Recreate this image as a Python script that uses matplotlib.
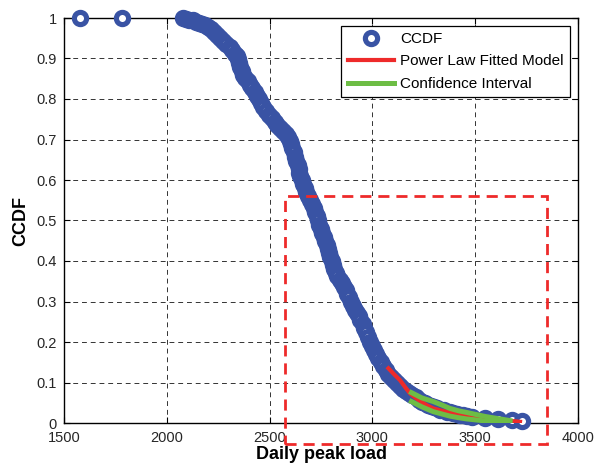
"""CCDF of daily peak load with power-law tail fit."""

import matplotlib

matplotlib.use("Agg")
import matplotlib.pyplot as plt
from matplotlib.patches import Rectangle

ccdf_x = [
    1580, 1780,
    2080, 2095, 2110, 2125, 2140, 2155, 2170, 2185, 2200, 2215, 2230, 2245, 2260, 2275,
    2290, 2305, 2318, 2330, 2340, 2346, 2352, 2358, 2364, 2372, 2382, 2393, 2405, 2416,
    2428, 2440, 2450, 2460, 2470, 2481, 2495, 2510, 2524, 2538, 2552, 2565, 2578, 2590,
    2597, 2603, 2610, 2617, 2624, 2630, 2636, 2641, 2645, 2650, 2656, 2663, 2671, 2679,
    2688, 2697, 2706, 2715, 2722, 2729, 2735, 2742, 2750, 2757, 2764, 2771, 2777, 2784,
    2790, 2796, 2802, 2808, 2814, 2821, 2830, 2840, 2851, 2862, 2870, 2878, 2886, 2895,
    2904, 2914, 2923, 2933, 2942, 2952, 2961, 2970, 2979, 2988, 2998, 3008, 3018, 3029,
    3040, 3052, 3064, 3077, 3090, 3106, 3122, 3135, 3150, 3165, 3180, 3195, 3210, 3225,
    3240, 3255, 3270, 3285, 3300, 3315, 3330, 3346, 3362, 3377, 3393, 3410, 3426, 3442,
    3459, 3483, 3548, 3612, 3677, 3726,
]
ccdf_y = [
    1.000, 1.000,
    1.000, 0.998, 0.996, 0.994, 0.991, 0.988, 0.985, 0.982, 0.977, 0.972, 0.966, 0.959, 0.951, 0.943,
    0.935, 0.928, 0.920, 0.912, 0.905, 0.898, 0.888, 0.878, 0.868, 0.860, 0.852, 0.844, 0.835, 0.826,
    0.817, 0.808, 0.800, 0.790, 0.780, 0.770, 0.761, 0.752, 0.744, 0.736, 0.729, 0.721, 0.713, 0.705,
    0.697, 0.688, 0.678, 0.668, 0.658, 0.648, 0.638, 0.628, 0.618, 0.609, 0.600, 0.590, 0.580, 0.570,
    0.560, 0.550, 0.540, 0.530, 0.520, 0.510, 0.500, 0.490, 0.480, 0.470, 0.460, 0.450, 0.440, 0.430,
    0.420, 0.410, 0.400, 0.390, 0.380, 0.370, 0.362, 0.353, 0.345, 0.337, 0.328, 0.319, 0.310, 0.300,
    0.290, 0.280, 0.271, 0.263, 0.254, 0.244, 0.234, 0.224, 0.213, 0.200, 0.190, 0.180, 0.170, 0.160,
    0.150, 0.140, 0.130, 0.121, 0.113, 0.106, 0.100, 0.092, 0.085, 0.079, 0.073, 0.068, 0.063, 0.058,
    0.053, 0.049, 0.045, 0.042, 0.039, 0.036, 0.033, 0.031, 0.028, 0.026, 0.024, 0.022, 0.020, 0.019,
    0.017, 0.015, 0.013, 0.011, 0.008, 0.004,
]

# power law fit
fit_x = [3078, 3110, 3134, 3160, 3183, 3220, 3264, 3296, 3340, 3377, 3420, 3459, 3491, 3550, 3621, 3700, 3718]
fit_y = [0.135, 0.118, 0.106, 0.088, 0.073, 0.058, 0.044, 0.036, 0.030, 0.026, 0.021, 0.016, 0.014, 0.010, 0.007, 0.004, 0.003]

# confidence interval bounds
ci_x = [3190, 3240, 3296, 3340, 3377, 3420, 3459, 3550, 3669]
ci_upper = [0.075, 0.062, 0.053, 0.044, 0.036, 0.030, 0.026, 0.016, 0.006]
ci_lower = [0.053, 0.040, 0.028, 0.022, 0.017, 0.013, 0.010, 0.005, 0.001]

# zoom box (data coords)
box_x = [2575, 3848]
box_y = [-0.053, 0.56]

x_ticks = [1500, 2000, 2500, 3000, 3500, 4000]
y_ticks = [0, 0.1, 0.2, 0.3, 0.4, 0.5, 0.6, 0.7, 0.8, 0.9, 1]
y_ticklabels = ["0", "0.1", "0.2", "0.3", "0.4", "0.5", "0.6", "0.7", "0.8", "0.9", "1"]

BLUE = "#3953a4"
RED = "#ee2a2a"
GREEN = "#6dbd45"

plt.rcParams["font.family"] = ["Liberation Sans", "DejaVu Sans"]


def main():
    fig = plt.figure(figsize=(5.95, 4.65), dpi=100)
    ax = fig.add_axes([64 / 595, 42 / 465, 514 / 595, 405 / 465])

    ax.plot(
        ccdf_x, ccdf_y, "o", ls="none", ms=8.8, mew=3.7,
        mfc="white", mec=BLUE, clip_on=False, zorder=3, label="CCDF",
    )
    ax.plot(fit_x, fit_y, color=RED, lw=3.0, zorder=4, label="Power Law Fitted Model")
    ax.plot(ci_x, ci_upper, color=GREEN, lw=3.6, zorder=5, label="Confidence Interval")
    ax.plot(ci_x, ci_lower, color=GREEN, lw=3.6, zorder=5)

    rect = Rectangle(
        (box_x[0], box_y[0]), box_x[1] - box_x[0], box_y[1] - box_y[0],
        fill=False, edgecolor=RED, lw=2.0, ls=(0, (4, 2.5)),
        clip_on=False, zorder=6,
    )
    ax.add_patch(rect)

    ax.set_xlim(1500, 4000)
    ax.set_ylim(0, 1)
    ax.set_xticks(x_ticks)
    ax.set_yticks(y_ticks)
    ax.set_yticklabels(y_ticklabels)
    ax.tick_params(
        direction="in", length=4, width=0.8, top=True, right=True,
        labelsize=10.5, labelcolor="#262626",
    )
    ax.tick_params(axis="x", pad=5.5)
    ax.tick_params(axis="y", pad=5)
    for spine in ax.spines.values():
        spine.set_linewidth(1.0)
        spine.set_color("black")
    ax.grid(True, color="#333333", lw=0.7, ls=(0, (5, 4)))
    ax.set_axisbelow(True)

    ax.set_xlabel("Daily peak load", fontsize=13, fontweight="bold", labelpad=1)
    ax.set_ylabel("CCDF", fontsize=13, fontweight="bold", labelpad=5)

    leg = ax.legend(
        loc="upper right", fontsize=11, frameon=True, fancybox=False,
        edgecolor="black", framealpha=1, handlelength=3.0, handletextpad=0.45,
        labelspacing=0.55, borderaxespad=0.5, borderpad=0.42,
    )
    leg.get_frame().set_linewidth(0.9)

    fig.savefig("out.png", dpi=100)
    plt.close(fig)


if __name__ == "__main__":
    main()
